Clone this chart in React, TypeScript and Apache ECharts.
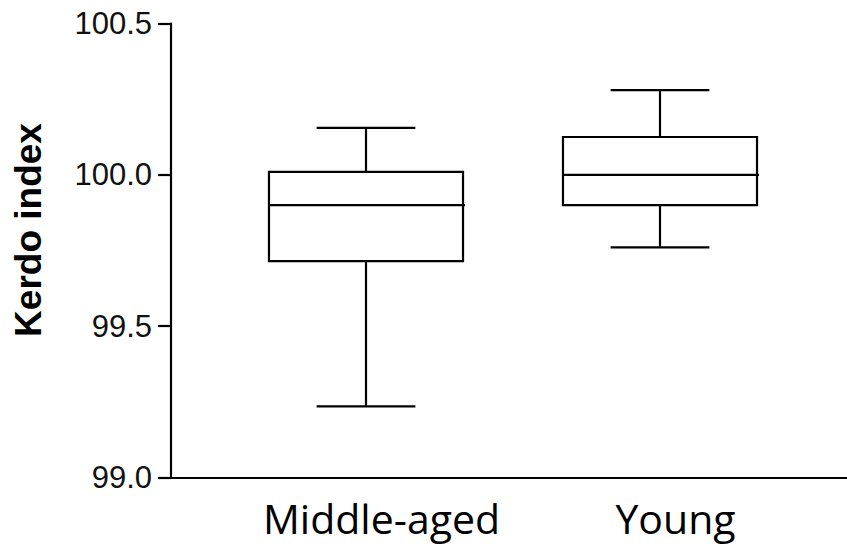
import React, { useEffect, useRef } from "react";
import * as echarts from "echarts";

const categories = ["Middle-aged", "Young"];
// [low whisker, Q1, median, Q3, high whisker]
const boxStats = [
  [99.235, 99.715, 99.9, 100.01, 100.155],
  [99.76, 99.9, 100.0, 100.125, 100.28],
];
const yTicks = { min: 99.0, max: 100.5, interval: 0.5 };
const yTitle = "Kerdo index";

export default function App() {
  const ref = useRef<HTMLDivElement>(null);
  useEffect(() => {
    document.body.style.margin = "0";
    const chart = echarts.init(ref.current!, null, { renderer: "svg" });
    const data = boxStats.map((s, i) => [i, ...s]);
    const option: any = {
      animation: false,
      backgroundColor: "#ffffff",
      grid: [
        { left: 219, right: 40, top: 23.5, bottom: 70.5 },
        { left: 171, right: 0, top: 23.5, bottom: 70.5 },
      ],
      xAxis: [
        {
          type: "category",
          gridIndex: 0,
          data: categories,
          boundaryGap: true,
          axisLine: { show: false },
          axisTick: { show: false },
          splitLine: { show: false },
          axisLabel: {
            interval: 0,
            hideOverlap: false,
            fontFamily: "Open Sans",
            fontSize: 41,
            color: "#000",
            margin: 20,
            padding: [0, 0, 0, 31],
          },
        },
        {
          type: "value",
          gridIndex: 1,
          min: 0,
          max: 1,
          axisLine: { show: true, lineStyle: { color: "#000", width: 2.2 } },
          axisTick: { show: false },
          axisLabel: { show: false },
          splitLine: { show: false },
        },
      ],
      yAxis: [
        {
          type: "value",
          gridIndex: 0,
          min: yTicks.min,
          max: yTicks.max,
          interval: yTicks.interval,
          show: false,
          splitLine: { show: false },
        },
        {
          type: "value",
          gridIndex: 1,
          min: yTicks.min,
          max: yTicks.max,
          interval: yTicks.interval,
          axisLine: { show: true, lineStyle: { color: "#000", width: 2.2 } },
          axisTick: { show: true, length: 13, lineStyle: { color: "#000", width: 2.2 } },
          splitLine: { show: false },
          axisLabel: {
            fontFamily: "Liberation Sans",
            fontSize: 31,
            color: "#111",
            margin: 19,
            formatter: (v: number) => v.toFixed(1),
          },
        },
      ],
      series: [
        {
          type: "custom",
          xAxisIndex: 0,
          yAxisIndex: 0,
          data,
          encode: { x: 0, y: [1, 2, 3, 4, 5] },
          renderItem: (params: any, api: any) => {
            const xi = api.value(0);
            const band = api.size([1, 0])[0];
            const bh = band * 0.33;
            const ch = band * 0.168;
            const pLow = api.coord([xi, api.value(1)]);
            const pQ1 = api.coord([xi, api.value(2)]);
            const pMed = api.coord([xi, api.value(3)]);
            const pQ3 = api.coord([xi, api.value(4)]);
            const pHigh = api.coord([xi, api.value(5)]);
            const cx = pMed[0];
            const st = { stroke: "#000", lineWidth: 2.2, fill: null };
            return {
              type: "group",
              children: [
                {
                  type: "rect",
                  shape: { x: cx - bh, y: pQ3[1], width: bh * 2, height: pQ1[1] - pQ3[1] },
                  style: { stroke: "#000", lineWidth: 2.2, fill: "none" },
                },
                { type: "line", shape: { x1: cx - bh, y1: pMed[1], x2: cx + bh + 2, y2: pMed[1] }, style: st },
                { type: "line", shape: { x1: cx, y1: pQ3[1], x2: cx, y2: pHigh[1] }, style: st },
                { type: "line", shape: { x1: cx, y1: pQ1[1], x2: cx, y2: pLow[1] }, style: st },
                { type: "line", shape: { x1: cx - ch, y1: pHigh[1], x2: cx + ch, y2: pHigh[1] }, style: st },
                { type: "line", shape: { x1: cx - ch, y1: pLow[1], x2: cx + ch, y2: pLow[1] }, style: st },
              ],
            };
          },
        },
      ],
      graphic: [
        {
          type: "text",
          x: 28,
          y: 230,
          rotation: Math.PI / 2,
          style: {
            text: yTitle,
            fontFamily: "Liberation Sans",
            fontWeight: "bold",
            fontSize: 37,
            fill: "#000",
            align: "center",
            verticalAlign: "middle",
          },
        },
      ],
    };
    chart.setOption(option);
    return () => chart.dispose();
  }, []);
  return <div ref={ref} style={{ width: 847, height: 548 }} />;
}
